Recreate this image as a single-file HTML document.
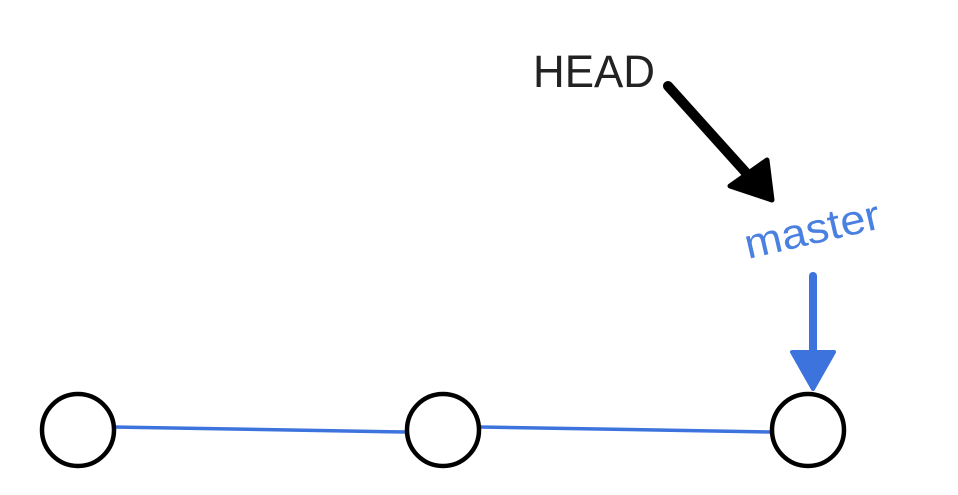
<!DOCTYPE html>
<html><head><meta charset="utf-8"><style>
html,body{margin:0;padding:0;background:#fff;}
</style></head><body>
<svg width="958" height="490" viewBox="0 0 958 490" xmlns="http://www.w3.org/2000/svg">
<rect width="958" height="490" fill="#fff"/>
<g stroke="#3d73dc" stroke-width="3.5" fill="none" stroke-linecap="round">
<path d="M114 427 L406 432"/>
<path d="M480 427 L772 432"/>
</g>
<g stroke="#000" stroke-width="4.5" fill="#fff">
<circle cx="78" cy="430" r="36"/>
<circle cx="443" cy="430" r="36"/>
<circle cx="808" cy="430" r="36"/>
</g>
<text x="533" y="87" font-family="Liberation Sans, sans-serif" font-size="45" fill="#222" textLength="122" lengthAdjust="spacingAndGlyphs">HEAD</text>
<path d="M668 86 L758 186" stroke="#000" stroke-width="10" stroke-linecap="round"/>
<polygon points="730,186 767,160 772,200" fill="#000" stroke="#000" stroke-width="5" stroke-linejoin="round"/>
<text x="0" y="0" transform="translate(748,259) rotate(-13)" font-family="Liberation Sans, sans-serif" font-size="42" fill="#4a80e0" textLength="138" lengthAdjust="spacingAndGlyphs">master</text>
<path d="M813 276 L813 360" stroke="#3d73dc" stroke-width="8" stroke-linecap="round"/>
<polygon points="792,352 834,352 813,389" fill="#3d73dc" stroke="#3d73dc" stroke-width="4" stroke-linejoin="round"/>
</svg>
</body></html>
